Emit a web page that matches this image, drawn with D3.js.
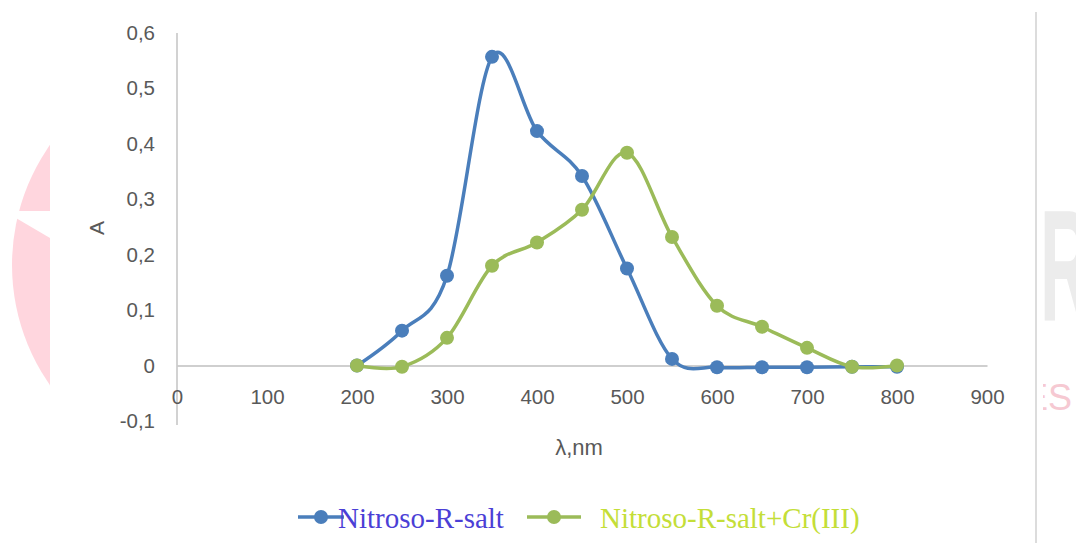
<!DOCTYPE html>
<html>
<head>
<meta charset="utf-8">
<script src="https://cdn.jsdelivr.net/npm/d3@7"></script>
<style>
  body { margin: 0; background: #fff; }
  svg { display: block; }
</style>
</head>
<body>
<script>
// wavelengths (nm) and absorbance
const wavelengths = [200, 250, 300, 350, 400, 450, 500, 550, 600, 650, 700, 750, 800];
const nitrosoR = [0, 0.063, 0.162, 0.557, 0.423, 0.342, 0.175, 0.012, -0.003, -0.003, -0.003, -0.002, -0.002];
const nitrosoRCr = [0, -0.002, 0.05, 0.18, 0.222, 0.281, 0.384, 0.232, 0.108, 0.07, 0.032, -0.002, 0];
const seriesNames = ["Nitroso-R-salt", "Nitroso-R-salt+Cr(III)"];
const xTicks = [0, 100, 200, 300, 400, 500, 600, 700, 800, 900];
const yTicks = [-0.1, 0, 0.1, 0.2, 0.3, 0.4, 0.5, 0.6];

const width = 1076, height = 543;
const colors = ["#4a7ebb", "#9bbb59"];
const textColors = ["#4b3fd6", "#c4de38"];

const svg = d3.select("body").append("svg")
  .attr("width", width)
  .attr("height", height);

// faded watermark behind the chart
const defs = svg.append("defs");
defs.append("clipPath").attr("id", "leftClip")
  .append("rect").attr("x", 0).attr("y", 0).attr("width", 50).attr("height", height);
defs.append("clipPath").attr("id", "rightClip")
  .append("rect").attr("x", 1043).attr("y", 0).attr("width", 40).attr("height", height);

const wm = svg.append("g").attr("class", "watermark");
wm.append("circle")
  .attr("clip-path", "url(#leftClip)")
  .attr("cx", 221).attr("cy", 265).attr("r", 209)
  .attr("fill", "#ffd6de");
wm.append("polygon")
  .attr("points", "4,211 50,211 50,238")
  .attr("fill", "#fff");
const rightMarks = wm.append("g").attr("clip-path", "url(#rightClip)");
rightMarks.append("text")
  .attr("transform", "translate(1040,320) scale(0.45,1)")
  .attr("font-family", "Liberation Sans, Arial, sans-serif")
  .attr("font-weight", "bold")
  .attr("font-size", 158)
  .attr("fill", "#ececec")
  .text("R");
rightMarks.append("text")
  .attr("x", 1024).attr("y", 410)
  .attr("font-family", "Liberation Sans, Arial, sans-serif")
  .attr("font-size", 36)
  .attr("fill", "#f6c9d2")
  .text("ES");
svg.append("line")
  .attr("x1", 1036).attr("x2", 1036)
  .attr("y1", 12).attr("y2", height)
  .attr("stroke", "#dcdcdc").attr("stroke-width", 2);

// scales
const x = d3.scaleLinear().domain([0, 900]).range([177, 987]);
const y = d3.scaleLinear().domain([-0.1, 0.6]).range([421, 33]);

const commaFmt = d => d3.format(".1f")(d).replace(".", ",").replace("−", "-");

const axisFont = "Liberation Sans, Arial, sans-serif";

const yAxis = svg.append("g")
  .attr("transform", `translate(${x(0)},0)`)
  .call(d3.axisLeft(y).tickValues(yTicks).tickSize(0).tickPadding(22)
    .tickFormat(d => d === 0 ? "0" : commaFmt(d)));

const xAxis = svg.append("g")
  .attr("transform", `translate(0,${y(0)})`)
  .call(d3.axisBottom(x).tickValues(xTicks).tickSize(0).tickPadding(24).tickFormat(d3.format("d")));

[xAxis, yAxis].forEach(a => {
  a.select(".domain").attr("stroke", "#bfbfbf").attr("stroke-width", 1.4);
  a.selectAll("text")
    .attr("fill", "#595959")
    .attr("font-family", axisFont)
    .attr("font-size", 20.5);
});
yAxis.select(".domain").attr("d", `M0,${y(0.6)}V${y(-0.1) + 4}`);

svg.append("text")
  .attr("x", 579).attr("y", 455)
  .attr("text-anchor", "middle")
  .attr("fill", "#595959")
  .attr("font-family", axisFont)
  .attr("font-size", 22)
  .text("λ,nm");

svg.append("text")
  .attr("transform", "translate(104,228) rotate(-90)")
  .attr("text-anchor", "middle")
  .attr("fill", "#595959")
  .attr("font-family", axisFont)
  .attr("font-size", 21)
  .text("A");

// series
const series = [nitrosoR, nitrosoRCr].map((vals, i) => ({
  name: seriesNames[i],
  color: colors[i],
  points: wavelengths.map((w, j) => ({ w: w, a: vals[j] }))
}));

const line = d3.line()
  .x(d => x(d.w))
  .y(d => y(d.a))
  .curve(d3.curveCardinal.tension(0));

const sg = svg.selectAll(".series").data(series).enter()
  .append("g").attr("class", "series");

sg.append("path")
  .attr("d", d => line(d.points))
  .attr("fill", "none")
  .attr("stroke", d => d.color)
  .attr("stroke-width", 3.5);

sg.selectAll("circle").data(d => d.points.map(p => ({ p: p, color: d.color }))).enter()
  .append("circle")
  .attr("cx", d => x(d.p.w))
  .attr("cy", d => y(d.p.a))
  .attr("r", 7)
  .attr("fill", d => d.color);

// legend
const legendItems = [
  { x1: 298, x2: 344, tx: 338 },
  { x1: 527, x2: 581, tx: 600 }
];
const lg = svg.selectAll(".legend").data(series).enter()
  .append("g").attr("class", "legend");
lg.append("line")
  .attr("x1", (d, i) => legendItems[i].x1)
  .attr("x2", (d, i) => legendItems[i].x2)
  .attr("y1", 517).attr("y2", 517)
  .attr("stroke", d => d.color)
  .attr("stroke-width", 3.5);
lg.append("circle")
  .attr("cx", (d, i) => (legendItems[i].x1 + legendItems[i].x2) / 2)
  .attr("cy", 517)
  .attr("r", 7)
  .attr("fill", d => d.color);
lg.append("text")
  .attr("x", (d, i) => legendItems[i].tx)
  .attr("y", 528)
  .attr("font-family", "Liberation Serif, Times New Roman, serif")
  .attr("font-size", 29)
  .attr("fill", (d, i) => textColors[i])
  .text(d => d.name);
</script>
</body>
</html>
